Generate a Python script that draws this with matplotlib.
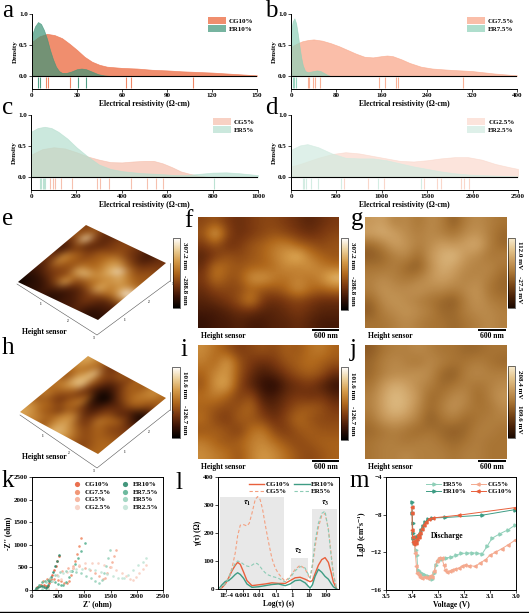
import numpy as np
import matplotlib
matplotlib.use('Agg')
import matplotlib.pyplot as plt
import matplotlib as mpl
from matplotlib.colors import LinearSegmentedColormap, Normalize
from matplotlib.patches import Patch
import matplotlib.transforms as mtransforms

plt.rcParams['font.family'] = ['Liberation Serif', 'DejaVu Serif']
plt.rcParams['font.weight'] = 'bold'
plt.rcParams['axes.labelweight'] = 'bold'
plt.rcParams['font.size'] = 5
plt.rcParams['mathtext.fontset'] = 'stix'

# ---------------- data: density panels ----------------
a_x_cg = [0, 5, 10, 15, 20, 25, 30, 35, 40, 45, 50, 60, 70, 80, 90, 100, 110, 120, 130, 140, 150]
a_y_cg = [0.55, 0.64, 0.68, 0.66, 0.61, 0.52, 0.42, 0.31, 0.23, 0.18, 0.15, 0.13, 0.12, 0.10, 0.09, 0.075, 0.065, 0.055, 0.04, 0.025, 0.01]
a_x_er = [0, 2, 4, 6, 8, 10, 12, 14, 16, 18, 20, 23, 26, 30, 33, 36, 40, 44, 48, 52]
a_y_er = [0.66, 0.80, 0.87, 0.84, 0.74, 0.60, 0.42, 0.27, 0.15, 0.08, 0.05, 0.05, 0.07, 0.11, 0.12, 0.11, 0.07, 0.03, 0.01, 0.0]
a_rug_cg = [9, 10.5, 25, 62.5, 65.7, 107.6]
a_rug_er = [4, 5, 30.4, 36]

b_x_cg = [0, 10, 20, 30, 40, 55, 70, 85, 100, 115, 130, 145, 160, 170, 180, 195, 210, 230, 250, 280, 320, 360, 400]
b_y_cg = [0.47, 0.52, 0.56, 0.58, 0.59, 0.57, 0.53, 0.48, 0.42, 0.36, 0.31, 0.30, 0.32, 0.33, 0.32, 0.27, 0.21, 0.15, 0.12, 0.10, 0.08, 0.04, 0.01]
b_x_er = [0, 3, 6, 9, 12, 15, 18, 21, 25, 30, 35, 40, 46, 52, 58, 64, 70]
b_y_er = [0.72, 0.88, 0.93, 0.85, 0.68, 0.48, 0.30, 0.17, 0.08, 0.06, 0.07, 0.08, 0.09, 0.08, 0.05, 0.02, 0.0]
b_rug_cg = [30, 32, 39, 43, 51, 155, 167, 185, 189, 304]
b_rug_er = [3.5, 6, 9]

c_x_cg = [0, 50, 100, 150, 200, 250, 300, 350, 400, 450, 500, 540, 580, 620, 660, 700, 740, 780]
c_y_cg = [0.36, 0.45, 0.48, 0.46, 0.40, 0.33, 0.28, 0.24, 0.235, 0.25, 0.26, 0.26, 0.22, 0.16, 0.09, 0.05, 0.02, 0.0]
c_x_er = [0, 30, 60, 90, 120, 160, 200, 250, 300, 350, 400, 450, 500, 560, 620, 680, 740, 800, 860, 920, 1000]
c_y_er = [0.73, 0.79, 0.81, 0.79, 0.73, 0.62, 0.48, 0.33, 0.20, 0.13, 0.095, 0.075, 0.06, 0.05, 0.035, 0.03, 0.05, 0.07, 0.075, 0.06, 0.03]
c_rug_cg = [85, 95, 105, 130, 180, 290, 305, 343, 440, 513, 550, 582]
c_rug_er = [38, 45, 52, 58, 63, 808]

d_x_cg = [0, 100, 200, 300, 450, 600, 750, 900, 1050, 1200, 1350, 1500, 1650, 1800, 1950, 2100, 2250, 2400, 2500]
d_y_cg = [0.17, 0.21, 0.26, 0.31, 0.37, 0.40, 0.38, 0.34, 0.30, 0.26, 0.25, 0.27, 0.30, 0.32, 0.32, 0.28, 0.21, 0.16, 0.13]
d_x_er = [0, 100, 180, 300, 450, 600, 750, 900, 1050, 1200, 1350, 1500, 1650, 1800, 1950, 2100, 2300, 2500]
d_y_er = [0.44, 0.51, 0.53, 0.48, 0.38, 0.31, 0.30, 0.30, 0.27, 0.22, 0.17, 0.13, 0.09, 0.06, 0.04, 0.03, 0.02, 0.01]
d_rug_cg = [587, 843, 1026, 1466, 1613, 1650, 1870, 1906, 1961]
d_rug_er = [128, 147, 165, 220, 293, 550, 953, 1430]

# ---------------- data: Nyquist (k) ----------------
k_labels = ['CG10%', 'CG7.5%', 'CG5%', 'CG2.5%', 'ER10%', 'ER7.5%', 'ER5%', 'ER2.5%']
k_zr = {
    'CG10%': [70, 100, 140, 180, 220, 260, 290, 310, 330, 360, 390, 420, 450, 480, 510],
    'CG7.5%': [100, 150, 210, 280, 350, 420, 490, 560, 620, 670, 700, 740, 780, 820, 860, 900, 940],
    'CG5%': [300, 380, 470, 570, 680, 790, 900, 1010, 1110, 1200, 1280, 1350, 1400, 1440, 1480, 1520, 1560, 1610],
    'CG2.5%': [450, 550, 660, 780, 900, 1020, 1140, 1260, 1380, 1500, 1610, 1710, 1800, 1870, 1930, 1990, 2050, 2110, 2180],
    'ER10%': [50, 80, 110, 150, 190, 230, 260, 280, 300, 330, 360, 400, 440, 480, 520],
    'ER7.5%': [100, 140, 190, 250, 310, 370, 430, 490, 550, 600, 650, 700, 760, 820, 880, 940, 1010],
    'ER5%': [200, 270, 350, 440, 540, 640, 740, 840, 940, 1040, 1130, 1210, 1280, 1330, 1370, 1410, 1450, 1490],
    'ER2.5%': [300, 390, 490, 600, 720, 840, 960, 1080, 1200, 1320, 1440, 1550, 1650, 1720, 1760, 1840, 1930, 2030, 2110, 2180],
}
k_zi = {
    'CG10%': [5, 60, 95, 110, 105, 85, 70, 90, 150, 240, 340, 440, 540, 650, 760],
    'CG7.5%': [10, 120, 190, 235, 250, 245, 225, 190, 160, 150, 210, 340, 490, 640, 800, 970, 1140],
    'CG5%': [20, 200, 330, 420, 490, 520, 520, 490, 440, 370, 300, 240, 260, 380, 500, 620, 750, 880],
    'CG2.5%': [30, 250, 390, 480, 550, 590, 600, 590, 560, 510, 450, 380, 310, 250, 220, 290, 370, 460, 550],
    'ER10%': [5, 45, 70, 82, 78, 60, 45, 60, 120, 200, 290, 400, 520, 650, 770],
    'ER7.5%': [10, 100, 170, 210, 220, 210, 180, 140, 110, 100, 180, 290, 430, 570, 710, 860, 1030],
    'ER5%': [20, 170, 270, 340, 390, 415, 420, 405, 370, 320, 260, 190, 150, 230, 380, 540, 710, 880],
    'ER2.5%': [20, 190, 300, 370, 420, 455, 470, 465, 440, 400, 350, 300, 270, 255, 260, 340, 440, 550, 630, 700],
}
k_colors = {'CG10%': '#E8603C', 'CG7.5%': '#F08C68', 'CG5%': '#F5AF98', 'CG2.5%': '#F8D0C2',
            'ER10%': '#2E8B6E', 'ER7.5%': '#5DB394', 'ER5%': '#9AD3BD', 'ER2.5%': '#C3E5D7'}

# ---------------- data: DRT (l) ----------------
l_log_a = [-4.44, -4.24, -4.04, -3.84, -3.64, -3.44, -3.30, -3.14, -2.94, -2.74, -2.44, -2.04, -1.64, -1.24, -0.84,
           -0.44, -0.14, 0.16, 0.46, 0.76, 1.06, 1.20, 1.36, 1.56, 1.76, 1.96, 2.16, 2.32, 2.46, 2.66]
l_cg10 = [0, 5, 18, 40, 65, 85, 95, 88, 60, 30, 12, 15, 18, 22, 20, 20, 30, 40, 42, 35, 26, 30, 55, 85, 105, 112, 95, 60, 25, 0]
l_er10 = [0, 15, 27, 30, 40, 52, 58, 52, 38, 18, 6, 8, 12, 16, 18, 12, 18, 30, 32, 22, 3, 15, 45, 70, 60, 45, 35, 20, 8, 0]
l_log_b = [-4.44, -4.24, -4.04, -3.84, -3.64, -3.44, -3.30, -3.14, -2.94, -2.74, -2.60, -2.44, -2.24, -2.10, -1.95,
           -1.80, -1.64, -1.45, -1.24, -1.04, -0.84, -0.64, -0.44, -0.14, 0.16, 0.46, 0.76, 1.06, 1.20, 1.36, 1.56,
           1.76, 1.96, 2.16, 2.32, 2.46, 2.66]
l_cg5 = [0, 8, 20, 40, 75, 130, 190, 228, 230, 225, 235, 270, 320, 330, 320, 285, 230, 170, 110, 75, 55, 40, 28,
         45, 70, 85, 72, 35, 80, 150, 220, 262, 270, 215, 130, 55, 0]
l_er5 = [0, 8, 18, 40, 70, 92, 100, 97, 88, 82, 80, 85, 93, 90, 80, 68, 58, 50, 45, 42, 38, 32, 25, 40, 65, 80, 75,
         40, 90, 170, 235, 270, 278, 210, 120, 50, 0]
l_box_lo = [4.2e-5, 0.79, 15.8]
l_box_hi = [0.29, 9.1, 500]
l_box_h = [329, 109, 284]
l_box_lab = [r'$\tau_1$', r'$\tau_2$', r'$\tau_3$']
l_lab_x = [0.0018, 2.3, 91]
l_lab_y = [305, 133, 305]

# ---------------- data: diffusion (m) ----------------
m_er10_v = [3.400, 3.399, 3.398, 3.397, 3.396, 3.393, 3.390, 3.387, 3.384, 3.380, 3.376, 3.371, 3.365, 3.358, 3.350,
            3.340, 3.325, 3.272, 3.131, 3.003]
m_er10_d = [-6.7, -7.8, -8.9, -9.9, -10.5, -10.8, -10.6, -10.9, -10.4, -10.7, -10.3, -10.0, -9.6, -9.2, -8.8,
            -8.5, -8.35, -8.3, -8.06, -7.46]
m_cg10_v = [3.401, 3.400, 3.399, 3.398, 3.396, 3.393, 3.390, 3.386, 3.382, 3.378, 3.374, 3.370, 3.362, 3.355, 3.347,
            3.335, 3.320, 3.221, 3.003]
m_cg10_d = [-7.2, -7.8, -9.6, -10.4, -10.9, -11.1, -10.8, -11.0, -10.6, -10.2, -10.4, -9.9, -9.5, -9.1, -8.8,
            -8.5, -8.35, -8.06, -7.25]
m_er5_v = [3.392, 3.386, 3.381, 3.378, 3.372, 3.365, 3.357, 3.349, 3.340, 3.331, 3.323, 3.316, 3.308, 3.300, 3.292,
           3.285, 3.270, 3.250, 3.230, 3.210, 3.190, 3.170, 3.150, 3.131, 3.110, 3.092, 3.060, 3.030, 3.003]
m_er5_d = [-11.0, -11.8, -12.3, -13.9, -14.0, -14.2, -14.3, -14.4, -14.5, -14.7, -14.8, -14.2, -13.3, -12.9, -12.75,
           -12.7, -12.6, -12.5, -12.3, -12.1, -12.1, -12.05, -12.1, -12.2, -11.3, -10.5, -10.0, -9.6, -9.1]
m_cg5_v = [3.392, 3.387, 3.383, 3.381, 3.375, 3.368, 3.360, 3.349, 3.340, 3.330, 3.323, 3.315, 3.304, 3.295, 3.285,
           3.278, 3.272, 3.265, 3.255, 3.246, 3.233, 3.221, 3.208, 3.195, 3.180, 3.156, 3.137, 3.118, 3.100, 3.079,
           3.054, 3.030, 3.003]
m_cg5_d = [-10.8, -12.1, -13.5, -14.2, -14.4, -14.6, -14.7, -14.6, -14.7, -14.5, -14.6, -14.0, -12.9, -12.55, -12.6,
           -13.3, -13.9, -14.05, -14.0, -13.9, -13.8, -13.7, -13.5, -13.35, -13.4, -13.5, -13.1, -12.8, -12.3, -12.0,
           -11.6, -11.2, -10.7]

# ---------------- data: AFM maps (coarse brightness) ----------------
f_grid = [
    [0.50, 0.55, 0.45, 0.40, 0.45, 0.50, 0.50, 0.45, 0.40, 0.35, 0.40, 0.45],
    [0.55, 0.90, 0.50, 0.40, 0.45, 0.50, 0.55, 0.50, 0.45, 0.40, 0.45, 0.50],
    [0.45, 0.55, 0.40, 0.45, 0.55, 0.60, 0.68, 0.72, 0.60, 0.55, 0.50, 0.55],
    [0.35, 0.45, 0.55, 0.50, 0.55, 0.60, 0.70, 0.80, 0.92, 0.70, 0.60, 0.55],
    [0.40, 0.68, 0.60, 0.55, 0.60, 0.60, 0.65, 0.75, 0.70, 0.78, 0.70, 0.65],
    [0.45, 0.68, 0.55, 0.55, 0.78, 0.82, 0.70, 0.65, 0.72, 0.65, 0.75, 0.95],
    [0.40, 0.50, 0.50, 0.50, 0.60, 0.55, 0.55, 0.62, 0.78, 0.65, 0.60, 0.65],
    [0.35, 0.40, 0.45, 0.55, 0.75, 0.45, 0.40, 0.45, 0.50, 0.45, 0.40, 0.40],
    [0.30, 0.30, 0.35, 0.40, 0.40, 0.35, 0.35, 0.40, 0.45, 0.40, 0.35, 0.35],
    [0.25, 0.30, 0.30, 0.35, 0.30, 0.30, 0.35, 0.35, 0.40, 0.35, 0.30, 0.30],
]
g_grid = [
    [0.65, 0.70, 0.55, 0.60, 0.50, 0.60, 0.55, 0.40, 0.55, 0.60, 0.55, 0.50],
    [0.70, 0.75, 0.70, 0.60, 0.55, 0.60, 0.55, 0.50, 0.60, 0.65, 0.55, 0.45],
    [0.45, 0.55, 0.70, 0.65, 0.55, 0.60, 0.70, 0.65, 0.70, 0.75, 0.55, 0.45],
    [0.40, 0.45, 0.55, 0.60, 0.45, 0.65, 0.75, 0.80, 0.65, 0.60, 0.50, 0.55],
    [0.50, 0.50, 0.55, 0.45, 0.40, 0.60, 0.75, 0.70, 0.60, 0.55, 0.60, 0.50],
    [0.55, 0.60, 0.55, 0.50, 0.55, 0.65, 0.70, 0.65, 0.55, 0.60, 0.55, 0.45],
    [0.55, 0.65, 0.60, 0.60, 0.65, 0.60, 0.60, 0.55, 0.60, 0.65, 0.50, 0.45],
    [0.45, 0.60, 0.65, 0.60, 0.55, 0.50, 0.45, 0.40, 0.55, 0.65, 0.55, 0.50],
    [0.40, 0.55, 0.60, 0.65, 0.60, 0.55, 0.45, 0.45, 0.55, 0.60, 0.60, 0.55],
    [0.50, 0.50, 0.55, 0.60, 0.55, 0.50, 0.50, 0.45, 0.50, 0.55, 0.60, 0.55],
]
i_grid = [
    [0.75, 0.65, 0.55, 0.45, 0.50, 0.55, 0.50, 0.60, 0.55, 0.65, 0.70, 0.60],
    [0.70, 0.60, 0.85, 0.55, 0.45, 0.40, 0.45, 0.55, 0.60, 0.65, 0.60, 0.55],
    [0.60, 0.75, 0.80, 0.55, 0.40, 0.30, 0.35, 0.45, 0.55, 0.60, 0.55, 0.40],
    [0.55, 0.80, 0.85, 0.50, 0.35, 0.25, 0.20, 0.35, 0.40, 0.45, 0.35, 0.25],
    [0.65, 0.70, 0.60, 0.45, 0.55, 0.30, 0.30, 0.40, 0.45, 0.40, 0.45, 0.35],
    [0.60, 0.55, 0.50, 0.55, 0.65, 0.40, 0.35, 0.45, 0.55, 0.60, 0.55, 0.45],
    [0.65, 0.50, 0.45, 0.60, 0.55, 0.50, 0.40, 0.50, 0.65, 0.55, 0.50, 0.50],
    [0.55, 0.60, 0.55, 0.45, 0.65, 0.70, 0.50, 0.45, 0.55, 0.60, 0.55, 0.55],
    [0.70, 0.60, 0.55, 0.60, 0.70, 0.75, 0.65, 0.55, 0.50, 0.55, 0.60, 0.60],
    [0.75, 0.70, 0.65, 0.55, 0.70, 0.80, 0.75, 0.65, 0.55, 0.50, 0.55, 0.60],
]
j_grid = [
    [0.40, 0.50, 0.55, 0.55, 0.60, 0.55, 0.50, 0.50, 0.45, 0.45, 0.50, 0.50],
    [0.45, 0.55, 0.60, 0.55, 0.50, 0.60, 0.55, 0.50, 0.50, 0.55, 0.50, 0.45],
    [0.45, 0.55, 0.60, 0.60, 0.65, 0.60, 0.45, 0.40, 0.55, 0.60, 0.55, 0.55],
    [0.50, 0.65, 0.75, 0.70, 0.60, 0.55, 0.45, 0.50, 0.55, 0.50, 0.55, 0.60],
    [0.55, 0.70, 0.80, 0.75, 0.65, 0.45, 0.50, 0.60, 0.60, 0.45, 0.55, 0.65],
    [0.55, 0.70, 0.80, 0.75, 0.60, 0.45, 0.55, 0.65, 0.55, 0.50, 0.50, 0.60],
    [0.50, 0.65, 0.70, 0.65, 0.55, 0.40, 0.50, 0.55, 0.45, 0.50, 0.55, 0.55],
    [0.45, 0.50, 0.55, 0.50, 0.45, 0.50, 0.45, 0.40, 0.45, 0.55, 0.55, 0.50],
    [0.50, 0.55, 0.55, 0.50, 0.55, 0.55, 0.50, 0.45, 0.50, 0.55, 0.50, 0.50],
    [0.50, 0.55, 0.55, 0.60, 0.55, 0.55, 0.55, 0.50, 0.55, 0.55, 0.50, 0.50],
]
cb_top = {'e': '307.2 nm', 'f': '307.2 nm', 'g': '112.0 mV', 'h': '101.6 nm', 'i': '101.6 nm', 'j': '208.4 mV'}
cb_bot = {'e': '-288.8 nm', 'f': '-288.8 nm', 'g': '-27.5 mV', 'h': '-126.7 nm', 'i': '-126.7 nm', 'j': '109.6 mV'}

afm = LinearSegmentedColormap.from_list('afm', ['#000000', '#3b1406', '#7a3810', '#b0681c', '#d49a48', '#ecd09a', '#ffffff'])
pot = LinearSegmentedColormap.from_list('pot', ['#1a0800', '#4a2208', '#7a4818', '#a87434', '#c89a5c', '#e4c48c', '#f8ecd0'])

W, H = 529, 613
fig = plt.figure(figsize=(W / 100, H / 100), dpi=100)


def px_axes(x0, y0, x1, y1):
    return fig.add_axes([x0 / W, 1 - y1 / H, (x1 - x0) / W, (y1 - y0) / H])


def style_ticks(ax):
    ax.tick_params(labelsize=5, length=2, width=0.5, pad=1)
    for s in ax.spines.values():
        s.set_linewidth(0.7)


def density_panel(box, xc, yc, xe, ye, rc, re, col_c, col_e, a_c, a_e, lab_c, lab_e, xmax, xticks):
    ax = px_axes(*box)
    ax.fill_between(xc, yc, 0, color=col_c, alpha=a_c, lw=0.5)
    ax.fill_between(xe, ye, 0, color=col_e, alpha=a_e, lw=0.5)
    ax.axhline(0, color='k', lw=0.8)
    ax.vlines(rc, -0.19, -0.02, color=col_c, lw=0.8, alpha=0.9)
    ax.vlines(re, -0.19, -0.02, color=col_e, lw=0.8, alpha=0.9)
    ax.set_xlim(0, xmax)
    ax.set_ylim(-0.21, 1.0)
    ax.set_yticks([0, 0.5, 1.0])
    ax.set_yticklabels(['0.0', '0.5', '1.0'])
    ax.set_xticks(xticks)
    ax.spines['top'].set_visible(False)
    ax.spines['right'].set_visible(False)
    style_ticks(ax)
    ax.set_ylabel('Density', fontsize=5, labelpad=1)
    ax.set_xlabel('Electrical resistivity (Ω·cm)', fontsize=5.5, labelpad=1)
    hs = [Patch(facecolor=col_c, alpha=a_c), Patch(facecolor=col_e, alpha=a_e)]
    ax.legend(hs, [lab_c, lab_e], loc='upper right', frameon=False, fontsize=5, handlelength=2.6,
              handleheight=1.1, labelspacing=0.15, borderaxespad=0.1, handletextpad=0.4)
    return ax


density_panel((32, 14, 257, 89), a_x_cg, a_y_cg, a_x_er, a_y_er, a_rug_cg, a_rug_er,
              '#EE7A55', '#3E9478', 0.85, 0.7, 'CG10%', 'ER10%', 150, [0, 30, 60, 90, 120, 150])
density_panel((291, 14, 517, 89), b_x_cg, b_y_cg, b_x_er, b_y_er, b_rug_cg, b_rug_er,
              '#F9A98C', '#8ED0B8', 0.75, 0.7, 'CG7.5%', 'ER7.5%', 400, [0, 80, 160, 240, 320, 400])
density_panel((31, 115, 258, 190), c_x_cg, c_y_cg, c_x_er, c_y_er, c_rug_cg, c_rug_er,
              '#F5B9A5', '#B5DFCF', 0.65, 0.7, 'CG5%', 'ER5%', 1000, [0, 200, 400, 600, 800, 1000])
density_panel((291, 115, 518, 190), d_x_cg, d_y_cg, d_x_er, d_y_er, d_rug_cg, d_rug_er,
              '#FAD3C5', '#D0EBE0', 0.6, 0.7, 'CG2.5%', 'ER2.5%', 2500, [0, 500, 1000, 1500, 2000, 2500])

# ---------------- AFM images ----------------
img_boxes = {'f': (198, 217, 339, 328), 'g': (365, 217, 507, 328),
             'i': (198, 345, 339, 459), 'j': (365, 345, 507, 459)}
img_data = {'f': (f_grid, afm, 0.1, 1.15), 'g': (g_grid, pot, 0.0, 1.0),
            'i': (i_grid, afm, 0.1, 1.15), 'j': (j_grid, pot, 0.0, 1.0)}
for key, box in img_boxes.items():
    ax = px_axes(*box)
    grid, cm, lo, hi = img_data[key]
    ax.imshow(np.array(grid), cmap=cm, vmin=lo, vmax=hi, interpolation='bicubic', aspect='auto')
    ax.set_axis_off()

cb_boxes = {'e': (173, 238, 180, 308), 'f': (341, 238, 348, 310), 'g': (508, 238, 515, 308),
            'h': (172, 367, 180, 438), 'i': (341, 367, 348, 440), 'j': (508, 366, 515, 438)}
cb_maps = {'e': afm, 'f': afm, 'g': pot, 'h': afm, 'i': afm, 'j': pot}
for key, box in cb_boxes.items():
    cax = px_axes(*box)
    cbar = mpl.colorbar.ColorbarBase(cax, cmap=cb_maps[key], norm=Normalize(0, 1), orientation='vertical')
    cbar.set_ticks([])
    cbar.outline.set_linewidth(0.4)

# ---------------- k: Nyquist ----------------
ax = px_axes(32, 477, 163, 590)
for lab in k_labels:
    ax.scatter(k_zr[lab], k_zi[lab], s=3.5, color=k_colors[lab], lw=0, alpha=0.9, label=lab)
ax.set_xlim(0, 2500)
ax.set_ylim(0, 2500)
ax.set_xticks([0, 500, 1000, 1500, 2000, 2500])
ax.set_yticks([0, 500, 1000, 1500, 2000, 2500])
style_ticks(ax)
ax.set_xlabel("Z' (ohm)", fontsize=5.5, labelpad=1)
ax.set_ylabel("-Z'' (ohm)", fontsize=5.5, labelpad=1)
ax.legend(loc='upper right', ncol=2, frameon=False, fontsize=5, markerscale=2, handletextpad=0.2,
          columnspacing=1.0, labelspacing=0.25, borderaxespad=0.2)

# ---------------- l: DRT ----------------
ax = px_axes(218, 477, 339, 589)
for lo, hi, hh in zip(l_box_lo, l_box_hi, l_box_h):
    ax.fill_between([lo, hi], [0, 0], [hh, hh], color='#E8E8E8', lw=0, zorder=0)
for lab, xx, yy in zip(l_box_lab, l_lab_x, l_lab_y):
    ax.text(xx, yy, lab, fontsize=6, ha='center', va='center')
ta = 10 ** np.array(l_log_a)
tb = 10 ** np.array(l_log_b)
ax.plot(ta, l_cg10, color='#E8603C', lw=1.0, label='CG10%')
ax.plot(tb, l_cg5, color='#F4A080', lw=0.8, ls=(0, (3, 2)), label='CG5%')
ax.plot(ta, l_er10, color='#3E9C84', lw=1.0, label='ER10%')
ax.plot(tb, l_er5, color='#8CCBB5', lw=0.8, ls=(0, (3, 2)), label='ER5%')
ax.set_xscale('log')
ax.set_xlim(3.3e-5, 630)
ax.set_ylim(0, 400)
ax.set_xticks([1e-4, 1e-3, 1e-2, 1e-1, 1, 10, 100])
ax.set_xticklabels(['1E-4', '0.001', '0.01', '0.1', '1', '10', '100'])
ax.xaxis.set_minor_locator(mpl.ticker.NullLocator())
ax.set_yticks([0, 100, 200, 300, 400])
style_ticks(ax)
ax.set_xlabel('Log(τ) (s)', fontsize=5.5, labelpad=1)
ax.set_ylabel('γ(τ) (Ω)', fontsize=5.5, labelpad=1)
ax.legend(loc='upper right', ncol=2, frameon=False, fontsize=5, handlelength=2.2, handletextpad=0.2,
          columnspacing=0.6, labelspacing=0.2, borderaxespad=0.2)

# ---------------- m: diffusion ----------------
ax = px_axes(386, 477, 516, 590)
ax.plot(m_er5_v, m_er5_d, color='#8FCFB8', lw=0.7, marker='>', ms=2.2, label='ER5%')
ax.plot(m_er10_v, m_er10_d, color='#3E9C84', lw=0.7, marker='>', ms=2.2, label='ER10%')
ax.plot(m_cg5_v, m_cg5_d, color='#F4A98E', lw=0.7, marker='<', ms=2.2, label='CG5%')
ax.plot(m_cg10_v, m_cg10_d, color='#E8603C', lw=0.7, marker='<', ms=2.2, label='CG10%')
ax.set_xlim(3.5, 3.0)
ax.set_ylim(-16, -4)
ax.set_xticks([3.5, 3.4, 3.3, 3.2, 3.1, 3.0])
ax.set_xticklabels(['3.5', '3.4', '3.3', '3.2', '3.1', '3.0'])
ax.set_yticks([-16, -12, -8, -4])
style_ticks(ax)
ax.text(3.263, -10.3, 'Discharge', fontsize=5.5, ha='center', va='center')
ax.set_xlabel('Voltage (V)', fontsize=5.5, labelpad=1)
ax.set_ylabel(r'LgD (cm$^{2}$s$^{-1}$)', fontsize=5.5, labelpad=1)
ax.legend(loc='upper right', ncol=2, frameon=False, fontsize=5, handlelength=2.2, handletextpad=0.2,
          columnspacing=0.6, labelspacing=0.2, borderaxespad=0.2)

# ---------------- overlay: 3D views, letters, annotations ----------------
ov = fig.add_axes([0, 0, 1, 1])
ov.set_axis_off()


def diamond(grid, L, B, T, base):
    M = np.array([[B[0] - L[0], T[0] - L[0], L[0]],
                  [B[1] - L[1], T[1] - L[1], L[1]],
                  [0, 0, 1]], dtype=float)
    tr = mtransforms.Affine2D(M) + ov.transData
    ov.imshow(np.array(grid), cmap=afm, vmin=0.2, vmax=1.0, interpolation='bicubic',
              extent=(0, 1, 0, 1), origin='upper', aspect='auto', transform=tr, zorder=2)
    bl, bb, br = base
    ov.plot([bl[0], bb[0], br[0]], [bl[1], bb[1], br[1]], color='#555555', lw=0.4, zorder=1)
    ov.plot([br[0], br[0]], [br[1], br[1] - 18], color='#555555', lw=0.4, zorder=1)
    for k_ in range(1, 4):
        t = k_ / 3.0
        ov.text(bl[0] + (bb[0] - bl[0]) * t - 3, bl[1] + (bb[1] - bl[1]) * t + 3, str(k_), fontsize=2.5,
                ha='center', va='center', color='#333333')
        ov.text(bb[0] + (br[0] - bb[0]) * t + 3, bb[1] + (br[1] - bb[1]) * t + 3, str(k_), fontsize=2.5,
                ha='center', va='center', color='#333333')


diamond(f_grid, (18, 282), (98, 320), (86, 225), ((17, 284), (97, 335), (170, 281)))
diamond(i_grid, (20, 412), (98, 454), (88, 356), ((20, 415), (97, 468), (170, 410)))

ov.set_xlim(0, W)
ov.set_ylim(H, 0)

letters = [('a', 2, 17), ('b', 265, 17), ('c', 2, 114), ('d', 265, 114), ('e', 2, 225), ('f', 184, 227),
           ('g', 351, 225), ('h', 2, 354), ('i', 180, 356), ('j', 350, 356), ('k', 2, 487), ('l', 175, 489),
           ('m', 349, 487)]
for t, x, y in letters:
    ov.text(x, y, t, fontsize=18, fontweight='normal', ha='left', va='baseline', zorder=5)

for x, y in [(22, 332), (201, 336), (368, 336), (22, 457), (201, 467), (368, 467)]:
    ov.text(x, y, 'Height sensor', fontsize=5.5, ha='left', va='center', zorder=5)

for (x0, x1, y) in [(312, 339, 329.5), (478, 506, 329.5), (312, 339, 460.5), (478, 506, 460.5)]:
    ov.plot([x0, x1], [y, y], color='k', lw=1.4, solid_capstyle='butt', zorder=5)
    ov.text((x0 + x1) / 2, y + 6.5, '600 nm', fontsize=5.5, ha='center', va='center', zorder=5)

for key, box in cb_boxes.items():
    x1 = box[2]
    y0, y1 = box[1], box[3]
    ov.text(x1 + 4.5, y0 + (y1 - y0) * 0.25, cb_top[key], fontsize=5, rotation=-90, ha='center', va='center')
    ov.text(x1 + 4.5, y0 + (y1 - y0) * 0.74, cb_bot[key], fontsize=5, rotation=-90, ha='center', va='center')

ov.plot([0, W], [611.5, 611.5], color='k', lw=1.0)

fig.savefig('out.png', dpi=100)
